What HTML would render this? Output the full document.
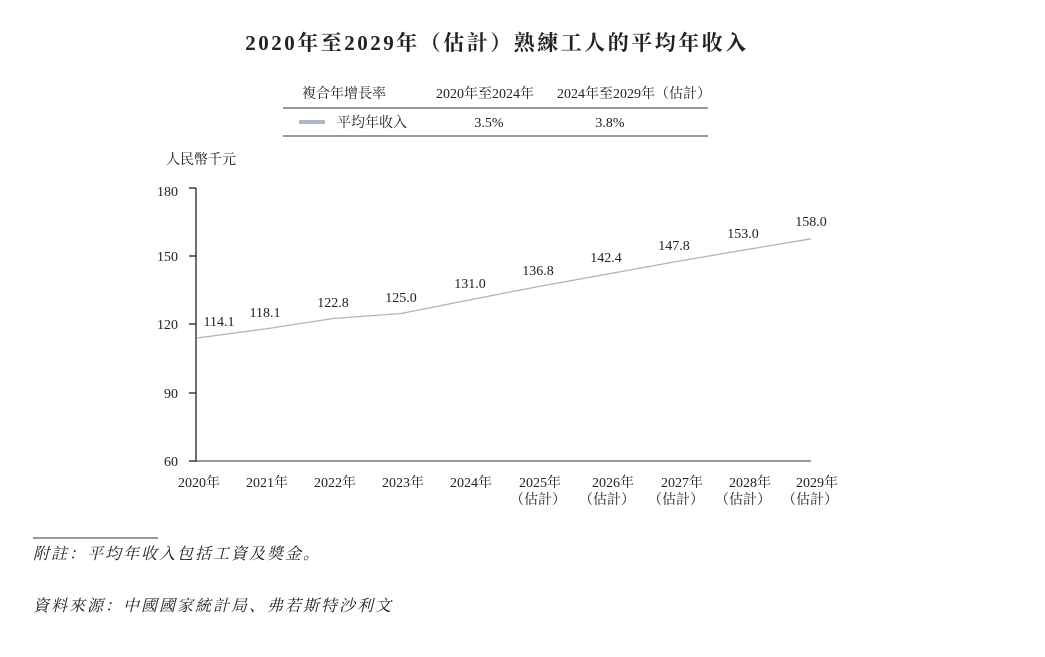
<!DOCTYPE html>
<html><head><meta charset="utf-8"><style>
body{margin:0;background:#fff;}
svg text{font-family:"Liberation Serif","Noto Serif CJK SC","Noto Sans CJK TC",serif;fill:#222;}
</style></head><body>
<svg width="1045" height="652" viewBox="0 0 1045 652" xmlns="http://www.w3.org/2000/svg">
<text x="497" y="50" font-size="21" font-weight="bold" text-anchor="middle" letter-spacing="2.5">2020年至2029年（估計）熟練工人的平均年收入</text>
<text x="302" y="98" font-size="14">複合年增長率</text>
<text x="485" y="98" font-size="14" text-anchor="middle">2020年至2024年</text>
<text x="634" y="98" font-size="14" text-anchor="middle">2024年至2029年（估計）</text>
<line x1="283" y1="108" x2="708" y2="108" stroke="#333" stroke-width="1"/>
<line x1="299" y1="122" x2="325" y2="122" stroke="#a9b7c8" stroke-width="4"/>
<text x="337" y="127" font-size="14">平均年收入</text>
<text x="489" y="127" font-size="14" text-anchor="middle">3.5%</text>
<text x="610" y="127" font-size="14" text-anchor="middle">3.8%</text>
<line x1="283" y1="136" x2="708" y2="136" stroke="#333" stroke-width="1"/>
<text x="166" y="164" font-size="14">人民幣千元</text>
<g font-size="14" text-anchor="end">
<text x="178" y="196">180</text><text x="178" y="261">150</text><text x="178" y="329">120</text><text x="178" y="398">90</text><text x="178" y="466">60</text>
</g>
<g stroke="#222" stroke-width="1.3">
<line x1="196" y1="188" x2="196" y2="462"/>
<line x1="189" y1="188" x2="196" y2="188"/><line x1="189" y1="256" x2="196" y2="256"/><line x1="189" y1="324" x2="196" y2="324"/><line x1="189" y1="393" x2="196" y2="393"/><line x1="189" y1="461" x2="196" y2="461"/>
</g>
<line x1="196" y1="461" x2="811" y2="461" stroke="#777" stroke-width="1.5"/>
<polyline fill="none" stroke="#a9b7c8" stroke-width="1.3" points="197,338 265,329 333,318.5 401,313.5 470,299.8 538,286.6 606,274.3 674,262 743,250.2 811,238.8"/>
<g font-size="14" text-anchor="middle">
<text x="219" y="326">114.1</text><text x="265" y="317">118.1</text><text x="333" y="307">122.8</text><text x="401" y="302">125.0</text><text x="470" y="288">131.0</text><text x="538" y="275">136.8</text><text x="606" y="262">142.4</text><text x="674" y="250">147.8</text><text x="743" y="238">153.0</text><text x="811" y="226">158.0</text>
</g>
<g font-size="14" text-anchor="middle">
<text x="199" y="487">2020年</text><text x="267" y="487">2021年</text><text x="335" y="487">2022年</text><text x="403" y="487">2023年</text><text x="471" y="487">2024年</text>
<text x="540" y="487">2025年</text><text x="613" y="487">2026年</text><text x="682" y="487">2027年</text><text x="750" y="487">2028年</text><text x="817" y="487">2029年</text>
<text x="538" y="504">（估計）</text><text x="607" y="504">（估計）</text><text x="676" y="504">（估計）</text><text x="743" y="504">（估計）</text><text x="810" y="504">（估計）</text>
</g>
<line x1="33" y1="538" x2="158" y2="538" stroke="#333" stroke-width="1"/>
<text x="33" y="559" font-size="16" font-style="italic" letter-spacing="2">附註：平均年收入包括工資及獎金。</text>
<text x="33" y="611" font-size="16" font-style="italic" letter-spacing="2">資料來源：中國國家統計局、弗若斯特沙利文</text>
</svg>
</body></html>
